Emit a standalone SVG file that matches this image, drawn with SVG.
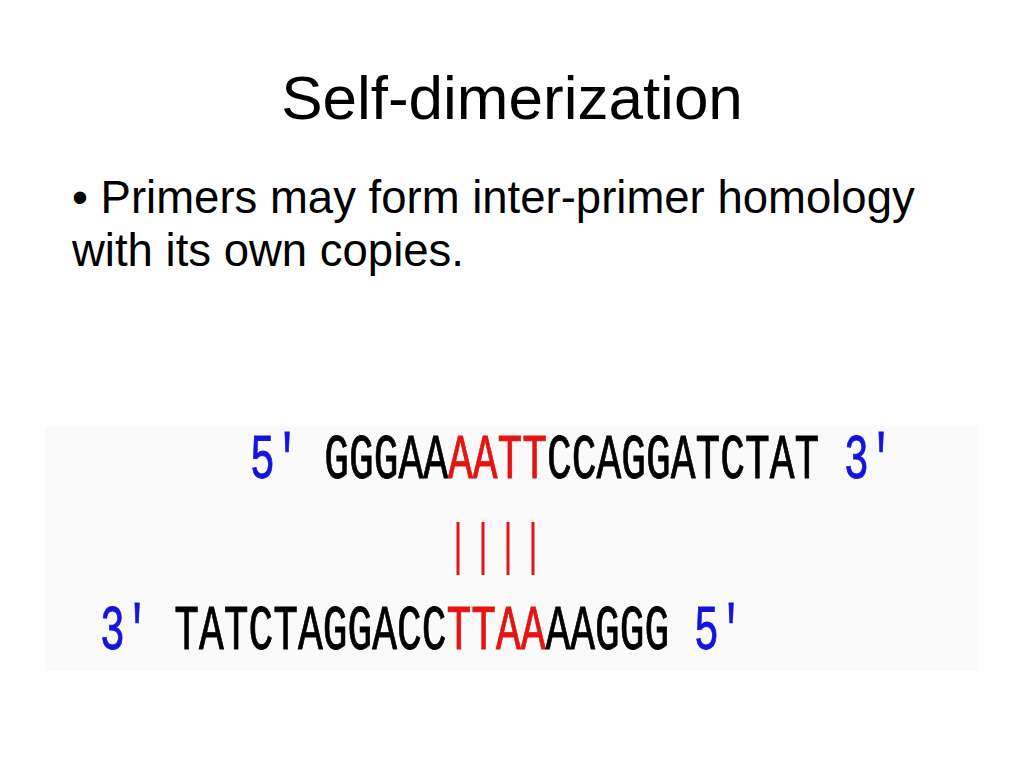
<svg xmlns="http://www.w3.org/2000/svg" width="1024" height="768" viewBox="0 0 1024 768">
<style>
.title{font-family:"Liberation Sans",Arial,sans-serif;font-size:62px;fill:#000}
.body{font-family:"Liberation Sans",Arial,sans-serif;font-size:45.5px;fill:#000}
.seq{font-family:"Liberation Mono","Courier New",monospace;font-size:41.25px;fill:#000;stroke:#000;stroke-width:0.6}
.b{fill:#1414dc;stroke:#1414dc}
.r{fill:#e41414;stroke:#e41414}
.bar{stroke:#e41414;stroke-width:3}
</style>
<rect width="1024" height="768" fill="#fff"/>
<g id="title"><text class="title" x="512" y="119" text-anchor="middle">Self-dimerization</text></g>
<g id="bullet">
<text class="body" x="72" y="213">• Primers may form inter-primer homology</text>
<text class="body" x="72" y="266">with its own copies.</text>
</g>
<g id="panel">
<rect x="45" y="426" width="933" height="245" fill="#fafafa"/>
<g id="top-strand" transform="translate(0,478) scale(1,1.51)">
<text class="seq" x="250" y="0" xml:space="preserve"><tspan class="b">5'</tspan> GGGAA<tspan class="r">AATT</tspan>CCAGGATCTAT <tspan class="b">3'</tspan></text>
</g>
<g id="pairs">
<line class="bar" x1="458" y1="522" x2="458" y2="575"/>
<line class="bar" x1="483" y1="522" x2="483" y2="575"/>
<line class="bar" x1="508" y1="522" x2="508" y2="575"/>
<line class="bar" x1="533" y1="522" x2="533" y2="575"/>
</g>
<g id="bottom-strand" transform="translate(0,649) scale(1,1.51)">
<text class="seq" x="100" y="0" xml:space="preserve"><tspan class="b">3'</tspan> TATCTAGGACC<tspan class="r">TTAA</tspan>AAGGG <tspan class="b">5'</tspan></text>
</g>
</g>
</svg>
